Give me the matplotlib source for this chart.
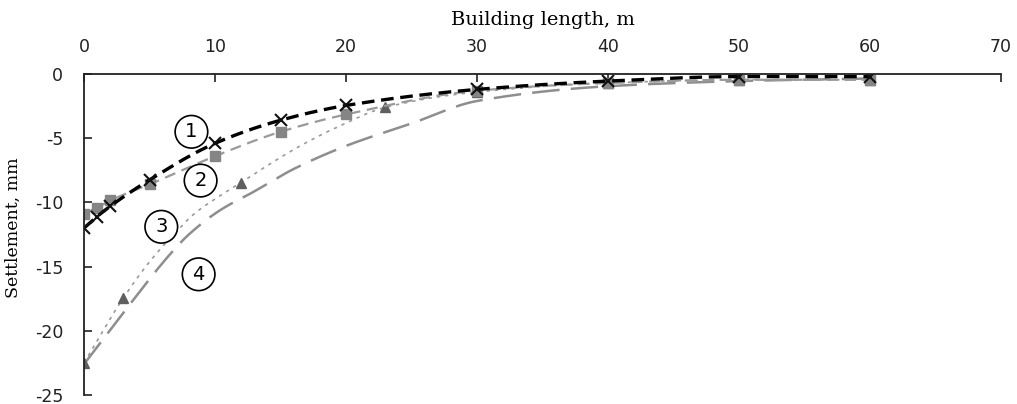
import numpy as np
import matplotlib.pyplot as plt

plt.rcParams["axes.unicode_minus"] = False

# series 1 - crosses, thick black dashes
x1 = [0, 1, 2, 5, 10, 15, 20, 30, 40, 50, 60]
y1 = [-12.0, -11.1, -10.3, -8.25, -5.4, -3.6, -2.45, -1.2, -0.55, -0.2, -0.2]

# series 2 - grey squares
x2 = [0, 1, 2, 5, 10, 15, 20, 30, 40, 50, 60]
y2 = [-10.9, -10.4, -9.85, -8.6, -6.4, -4.5, -3.15, -1.3, -0.7, -0.45, -0.45]

# series 3 - triangles (markers) and the dotted curve
x3 = [0, 3, 12, 23, 30, 40, 50, 60]
y3 = [-22.5, -17.45, -8.45, -2.6, -1.4, -0.7, -0.45, -0.45]
x3_curve = [0, 3, 5.1, 6.85, 8.4, 10.2, 12, 14.2, 16.5, 19.3, 23, 30, 40, 50, 60]
y3_curve = [-22.5, -17.45, -14.5, -12.5, -10.9, -9.6, -8.45, -7.0, -5.6, -4.15, -2.6, -1.4, -0.7, -0.45, -0.45]

# series 4 - long dashes, no markers
x4 = [0, 3, 6.6, 8, 10.4, 12.9, 16, 20, 25, 30, 40, 50, 60]
y4 = [-22.6, -18.6, -14.0, -12.5, -10.6, -9.2, -7.4, -5.6, -3.85, -2.1, -0.95, -0.55, -0.35]

labels = ["1", "2", "3", "4"]
label_x = [8.2, 8.9, 5.9, 8.75]
label_y = [-4.5, -8.3, -11.9, -15.6]


def smooth(xs, ys, n=400):
    # monotone cubic (pchip style) so the line looks like excel's smoothed one
    x = np.asarray(xs, float)
    y = np.asarray(ys, float)
    h = np.diff(x)
    d = np.diff(y) / h
    m = np.zeros_like(y)
    m[0], m[-1] = d[0], d[-1]
    for k in range(1, len(x) - 1):
        if d[k - 1] * d[k] > 0:
            w1 = 2 * h[k] + h[k - 1]
            w2 = h[k] + 2 * h[k - 1]
            m[k] = (w1 + w2) / (w1 / d[k - 1] + w2 / d[k])
    xx = np.linspace(x[0], x[-1], n)
    idx = np.clip(np.searchsorted(x, xx) - 1, 0, len(x) - 2)
    t = (xx - x[idx]) / h[idx]
    h00 = 2 * t ** 3 - 3 * t ** 2 + 1
    h10 = t ** 3 - 2 * t ** 2 + t
    h01 = -2 * t ** 3 + 3 * t ** 2
    h11 = t ** 3 - t ** 2
    yy = h00 * y[idx] + h10 * h[idx] * m[idx] + h01 * y[idx + 1] + h11 * h[idx] * m[idx + 1]
    return xx, yy


fig = plt.figure(figsize=(10.17, 4.04), dpi=100)
ax = fig.add_axes([0.0826, 0.0223, 0.9017, 0.7945])

sx, sy = smooth(x4, y4)
ax.plot(sx, sy, color="#8e8e8e", lw=1.8, dashes=(11, 4.5))

sx, sy = smooth(x3_curve, y3_curve)
ax.plot(sx, sy, color="#9a9a9a", lw=1.2, dashes=(2, 3))
ax.plot(x3, y3, ls="none", marker="^", ms=7, color="#5f5f5f")

sx, sy = smooth(x2, y2)
ax.plot(sx, sy, color="#9a9a9a", lw=1.6, dashes=(5, 3))
ax.plot(x2, y2, ls="none", marker="s", ms=7.5, color="#858585")

sx, sy = smooth(x1, y1)
ax.plot(sx, sy, color="black", lw=2.4, dashes=(3.8, 2))
ax.plot(x1, y1, ls="none", marker="x", ms=9, mew=1.5, color="#111111")

for lab, lx, ly in zip(labels, label_x, label_y):
    ax.text(lx, ly, lab, fontsize=14, ha="center", va="center", family="DejaVu Sans",
            bbox=dict(boxstyle="circle,pad=0.35", fc="white", ec="black", lw=1.2))

ax.set_xlim(0, 70)
ax.set_ylim(-25, 0)
ax.set_xticks(np.arange(0, 71, 10))
ax.set_yticks(np.arange(-25, 1, 5))
ax.xaxis.tick_top()
ax.xaxis.set_label_position("top")
ax.spines["bottom"].set_visible(False)
ax.spines["right"].set_visible(False)
for s in ["top", "left"]:
    ax.spines[s].set_linewidth(1.3)
    ax.spines[s].set_color("#222222")
ax.tick_params(axis="x", direction="in", length=6, width=1.2, labelsize=12.5, pad=13, colors="#222222")
ax.tick_params(axis="y", direction="in", length=6, width=1.2, labelsize=12.5, pad=15, colors="#222222")
for t in ax.get_xticklabels() + ax.get_yticklabels():
    t.set_family("DejaVu Sans")
ax.set_xlabel("Building length, m", family="DejaVu Serif", fontsize=14, labelpad=9)
ax.set_ylabel("Settlement, mm", family="DejaVu Serif", fontsize=12.5)
ax.yaxis.set_label_coords(-0.068, 0.52)

fig.savefig("out.png", dpi=100)
